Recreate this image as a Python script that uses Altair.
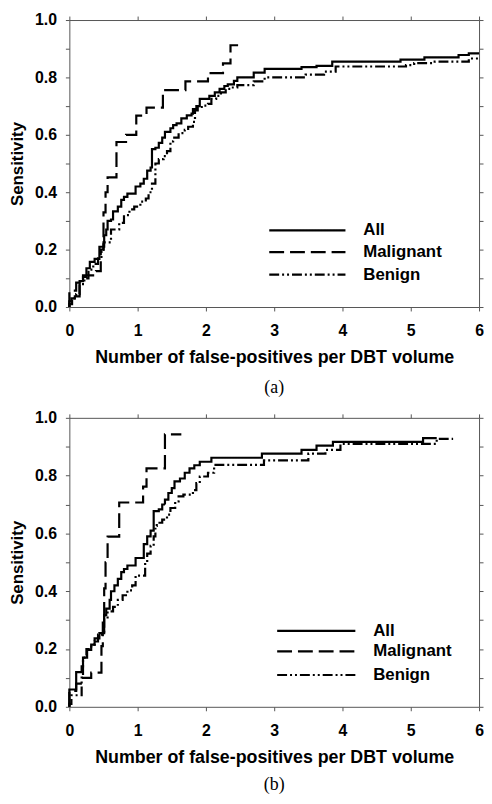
import altair as alt
import pandas as pd

SERIES = ["All", "Malignant", "Benign"]
DASHES = [[1, 0], [15, 6], [10, 3, 2, 3, 2, 3]]
X_TICKS = [0, 1, 2, 3, 4, 5, 6]
Y_TICKS = [0.0, 0.1, 0.2, 0.3, 0.4, 0.5, 0.6, 0.7, 0.8, 0.9, 1.0]
X_TITLE = "Number of false-positives per DBT volume"
Y_TITLE = "Sensitivity"
CAPTIONS = ["(a)", "(b)"]

# ---------- panel (a) ----------
A_ALL_X = [0, 0, 0.03, 0.08, 0.15, 0.20, 0.25, 0.30, 0.37, 0.44, 0.51, 0.54, 0.56, 0.61, 0.64,
           0.71, 0.76, 0.80, 0.85, 0.97, 1.04, 1.09, 1.14, 1.19, 1.21, 1.26, 1.31, 1.36, 1.40,
           1.48, 1.52, 1.57, 1.64, 1.72, 1.79, 1.81, 1.86, 1.91, 2.05, 2.13, 2.20, 2.27, 2.32,
           2.41, 2.46, 2.70, 2.86, 3.40, 3.62, 3.85, 4.85, 5.20, 5.70, 5.85, 6.0]
A_ALL_Y = [0, 0.02, 0.03, 0.037, 0.09, 0.105, 0.135, 0.157, 0.168, 0.21, 0.25, 0.27, 0.30, 0.305,
           0.333, 0.35, 0.373, 0.384, 0.395, 0.42, 0.43, 0.447, 0.475, 0.486, 0.55, 0.555, 0.572,
           0.59, 0.61, 0.623, 0.634, 0.64, 0.657, 0.668, 0.674, 0.69, 0.70, 0.725, 0.736, 0.748,
           0.76, 0.77, 0.776, 0.788, 0.80, 0.817, 0.83, 0.836, 0.84, 0.855, 0.862, 0.87, 0.878,
           0.884, 0.884]
A_MAL_X = [0, 0, 0.10, 0.20, 0.39, 0.46, 0.50, 0.53, 0.56, 0.69, 0.83, 0.98, 1.13, 1.37, 1.70,
           2.03, 2.25, 2.36, 2.48]
A_MAL_Y = [0, 0.057, 0.085, 0.11, 0.125, 0.20, 0.33, 0.40, 0.452, 0.575, 0.60, 0.667, 0.695,
           0.756, 0.786, 0.815, 0.849, 0.912, 0.912]
A_BEN_X = [0, 0, 0.04, 0.10, 0.15, 0.22, 0.28, 0.35, 0.42, 0.47, 0.50, 0.61, 0.73, 0.80, 0.88,
           0.95, 1.04, 1.12, 1.16, 1.21, 1.26, 1.31, 1.38, 1.43, 1.48, 1.52, 1.60, 1.69, 1.74,
           1.81, 1.84, 1.88, 1.96, 2.03, 2.08, 2.15, 2.22, 2.29, 2.37, 2.46, 2.70, 2.86, 3.46,
           3.73, 3.90, 4.93, 5.05, 5.35, 5.85, 6.0]
A_BEN_Y = [0, 0.01, 0.03, 0.045, 0.08, 0.10, 0.13, 0.15, 0.17, 0.20, 0.225, 0.27, 0.293, 0.32,
           0.34, 0.35, 0.367, 0.378, 0.40, 0.43, 0.50, 0.515, 0.526, 0.543, 0.577, 0.59, 0.606,
           0.617, 0.628, 0.645, 0.685, 0.697, 0.702, 0.708, 0.725, 0.736, 0.748, 0.76, 0.765,
           0.773, 0.786, 0.80, 0.81, 0.82, 0.838, 0.843, 0.85, 0.855, 0.866, 0.866]

# ---------- panel (b) ----------
B_ALL_X = [0, 0, 0.10, 0.18, 0.20, 0.26, 0.32, 0.37, 0.42, 0.44, 0.51, 0.54, 0.59, 0.61, 0.66,
           0.71, 0.76, 0.80, 0.85, 0.97, 1.09, 1.14, 1.19, 1.235, 1.31, 1.36, 1.40, 1.45, 1.50,
           1.54, 1.62, 1.69, 1.76, 1.83, 1.91, 2.08, 2.82, 3.40, 3.62, 3.86, 5.18, 5.38]
B_ALL_Y = [0, 0.06, 0.12, 0.14, 0.17, 0.197, 0.215, 0.226, 0.237, 0.255, 0.317, 0.34, 0.37, 0.40,
           0.42, 0.443, 0.466, 0.477, 0.489, 0.515, 0.563, 0.59, 0.61, 0.677, 0.683, 0.70, 0.717,
           0.74, 0.757, 0.78, 0.79, 0.81, 0.825, 0.836, 0.848, 0.862, 0.876, 0.889, 0.904, 0.917,
           0.93, 0.93]
B_MAL_X = [0, 0, 0.10, 0.20, 0.32, 0.47, 0.49, 0.51, 0.53, 0.56, 0.73, 1.08, 1.13, 1.40, 1.64]
B_MAL_Y = [0, 0.055, 0.08, 0.10, 0.118, 0.21, 0.30, 0.41, 0.50, 0.589, 0.707, 0.762, 0.825,
           0.943, 0.943]
B_BEN_X = [0, 0, 0.03, 0.18, 0.20, 0.25, 0.32, 0.37, 0.42, 0.51, 0.56, 0.64, 0.71, 0.78, 0.85,
           0.92, 0.97, 1.11, 1.14, 1.19, 1.235, 1.26, 1.28, 1.36, 1.43, 1.48, 1.55, 1.60, 1.67,
           1.81, 1.86, 1.91, 2.03, 2.12, 2.85, 3.50, 3.75, 3.97, 5.38, 5.62]
B_BEN_Y = [0, 0.01, 0.04, 0.11, 0.17, 0.20, 0.215, 0.237, 0.25, 0.306, 0.33, 0.346, 0.37, 0.386,
           0.403, 0.42, 0.454, 0.50, 0.53, 0.557, 0.59, 0.626, 0.637, 0.648, 0.665, 0.688, 0.711,
           0.728, 0.734, 0.75, 0.774, 0.797, 0.81, 0.837, 0.853, 0.876, 0.889, 0.91, 0.927, 0.927]


def make_df(pairs):
    rows = []
    for name, (xs, ys) in zip(SERIES, pairs):
        assert len(xs) == len(ys), name
        for i, (x, y) in enumerate(zip(xs, ys)):
            rows.append({"series": name, "idx": i, "fp": x, "sens": y})
    return pd.DataFrame(rows)


DF_A = make_df([(A_ALL_X, A_ALL_Y), (A_MAL_X, A_MAL_Y), (A_BEN_X, A_BEN_Y)])
DF_B = make_df([(B_ALL_X, B_ALL_Y), (B_MAL_X, B_MAL_Y), (B_BEN_X, B_BEN_Y)])

W = 414
FONT = "Liberation Sans"
AXIS_COLOR = "#555555"
LINE_W = 2.2
Y_LABELS = "round(datum.value * 10) % 2 == 0 ? format(datum.value, '.1f') : ''"


def panel(df, height, caption, cap_offset, leg_rows, leg_x0, leg_x1, leg_tx):
    xs = alt.Scale(domain=[0, 6], nice=False)
    ys = alt.Scale(domain=[0, 1], nice=False)
    base = alt.Chart(df)
    lines = base.mark_line(interpolate="step-after", strokeWidth=LINE_W, color="black",
                           strokeCap="butt").encode(
        x=alt.X("fp:Q", scale=xs,
                axis=alt.Axis(values=X_TICKS, format="d", title=X_TITLE, labelPadding=12,
                              titlePadding=10, labelFlush=False, titleFontSize=18)),
        y=alt.Y("sens:Q", scale=ys,
                axis=alt.Axis(values=Y_TICKS, labelExpr=Y_LABELS, title=Y_TITLE,
                              labelPadding=9, titlePadding=8, labelFlush=False,
                              labelOverlap=False)),
        strokeDash=alt.StrokeDash("series:N", scale=alt.Scale(domain=SERIES, range=DASHES),
                                  legend=None),
        order=alt.Order("idx:Q"),
    )
    frame = base.mark_line(opacity=0).encode(
        x=alt.X("fp:Q", scale=xs,
                axis=alt.Axis(orient="top", values=X_TICKS, labels=False, title=None)),
        y=alt.Y("sens:Q", scale=ys,
                axis=alt.Axis(orient="right", values=Y_TICKS, labels=False, title=None)),
        detail="series:N",
        order=alt.Order("idx:Q"),
    )
    layers = [lines, frame]
    for i, name in enumerate(SERIES):
        one = alt.Chart(pd.DataFrame({"series": [name]}))
        ry = leg_rows[i] * height
        layers.append(one.mark_rule(strokeDash=DASHES[i], strokeWidth=LINE_W, color="black",
                                    strokeCap="butt").encode(
            x=alt.value(leg_x0), x2=alt.value(leg_x1), y=alt.value(ry)))
        layers.append(one.mark_text(align="left", baseline="middle", font=FONT,
                                    fontSize=17, fontWeight="bold", color="black").encode(
            x=alt.value(leg_tx), y=alt.value(ry), text="series:N"))
    return alt.layer(*layers).resolve_axis(x="independent", y="independent").properties(
        width=W, height=height,
        title=alt.TitleParams(text=caption, orient="bottom", font="Liberation Serif",
                              fontSize=18, fontWeight="normal", offset=cap_offset,
                              color="black"),
    )


top = panel(DF_A, 290, CAPTIONS[0], 13, [0.733, 0.809, 0.887], 202, 279, 297)
bottom = panel(DF_B, 292, CAPTIONS[1], 10, [0.737, 0.808, 0.89], 210, 289, 307)

chart = alt.vconcat(top, bottom, spacing=13).properties(
    padding={"left": 0, "top": 0, "right": 0, "bottom": 0}
).configure_view(strokeWidth=0).configure_axis(
    grid=False,
    domainColor=AXIS_COLOR, domainWidth=1,
    tickColor=AXIS_COLOR, tickWidth=1, tickSize=4,
    labelFont=FONT, labelFontWeight="bold", labelFontSize=16, labelColor="black",
    titleFont=FONT, titleFontWeight="bold", titleFontSize=17, titleColor="black",
)

chart.save("out.html", embed_options={"renderer": "svg", "actions": False})
